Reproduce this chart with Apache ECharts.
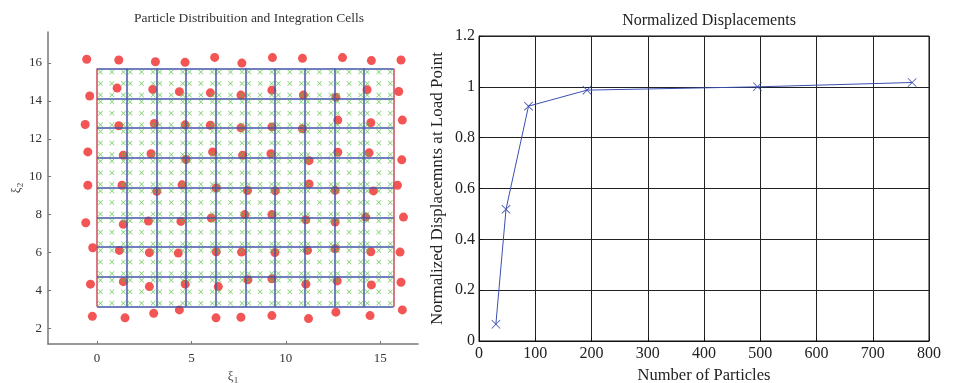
<!DOCTYPE html>
<html>
<head>
<meta charset="utf-8">
<script src="https://cdn.jsdelivr.net/npm/echarts@6/dist/echarts.min.js"></script>
<style>
html,body{margin:0;padding:0;background:#fff;}
#chart{width:959px;height:383px;}
</style>
</head>
<body>
<div id="chart"></div>
<script>
// particle positions, read row by row from top to bottom
const particleX = [
  -0.55, 1.15, 3.09, 4.66, 6.23, 7.67, 9.29, 10.88, 13.0, 14.53, 16.1,
  -0.39, 1.06, 2.95, 4.36, 6.0, 7.62, 9.26, 10.93, 12.65, 14.3, 15.98,
  -0.63, 1.15, 3.03, 4.67, 6.0, 7.62, 9.26, 10.88, 12.75, 14.5, 16.17,
  -0.49, 1.39, 2.86, 4.71, 6.12, 7.71, 9.21, 11.23, 12.75, 14.41, 16.14,
  -0.49, 1.32, 3.16, 4.5, 6.31, 7.97, 9.44, 11.23, 12.61, 14.64, 15.91,
  -0.6, 1.39, 2.72, 4.44, 6.05, 7.83, 9.26, 11.06, 12.61, 14.23, 16.23,
  -0.23, 1.18, 2.77, 4.3, 6.31, 7.65, 9.42, 11.15, 12.61, 14.5, 16.05,
  -0.35, 1.39, 2.77, 4.67, 6.42, 7.99, 9.26, 11.06, 12.72, 14.53, 16.1,
  -0.25, 1.48, 3.0, 4.36, 6.3, 7.62, 9.26, 11.2, 12.65, 14.46, 16.17
];
const particleY = [
  16.2, 16.16, 16.07, 16.04, 16.3, 16.0, 16.29, 16.25, 16.29, 16.13, 16.16,
  14.26, 14.68, 14.61, 14.49, 14.43, 14.31, 14.57, 14.31, 14.2, 14.59, 14.5,
  12.76, 12.69, 12.81, 12.74, 12.72, 12.58, 12.63, 12.53, 12.99, 12.85, 12.99,
  11.31, 11.14, 11.21, 10.91, 11.31, 11.14, 11.21, 10.85, 11.29, 11.26, 10.89,
  9.55, 9.55, 9.23, 9.57, 9.41, 9.27, 9.25, 9.62, 9.28, 9.25, 9.55,
  7.57, 7.49, 7.66, 7.64, 7.82, 8.0, 8.0, 7.73, 7.61, 7.87, 7.87,
  6.25, 6.11, 5.99, 5.97, 6.04, 6.02, 6.0, 6.11, 6.2, 6.04, 6.02,
  4.33, 4.46, 4.2, 4.33, 4.2, 4.56, 4.61, 4.33, 4.5, 4.29, 4.43,
  2.63, 2.55, 2.79, 2.97, 2.55, 2.58, 2.67, 2.51, 2.85, 2.67, 2.97
];
// integration cell edges
const cellEdgesX = [0, 1.571, 3.142, 4.712, 6.283, 7.854, 9.425, 10.996, 12.566, 14.137, 15.708];
const cellEdgesY = [3.142, 4.712, 6.283, 7.854, 9.425, 10.996, 12.566, 14.137, 15.708];
// 3 point gauss abscissae on [-1, 1]
const gaussPts = [-0.7746, 0, 0.7746];

// convergence study
const nParticles = [30, 48, 88, 192, 495, 770];
const normDisp = [0.066, 0.518, 0.924, 0.987, 1.0, 1.017];

const serif = 'Liberation Serif';
const crossPath = 'path://M0,1L1,0L5,4L9,0L10,1L6,5L10,9L9,10L5,6L1,10L0,9L4,5Z';
const thinCross = 'path://M0,0.6L0.6,0L5,4.4L9.4,0L10,0.6L5.6,5L10,9.4L9.4,10L5,5.6L0.6,10L0,9.4L4.4,5Z';

var particles = particleX.map((x, i) => [x, particleY[i]]);

var gaussData = [];
for (var i = 0; i < cellEdgesX.length - 1; i++) {
  for (var j = 0; j < cellEdgesY.length - 1; j++) {
    var cx = (cellEdgesX[i] + cellEdgesX[i + 1]) / 2, hx = (cellEdgesX[i + 1] - cellEdgesX[i]) / 2;
    var cy = (cellEdgesY[j] + cellEdgesY[j + 1]) / 2, hy = (cellEdgesY[j + 1] - cellEdgesY[j]) / 2;
    gaussPts.forEach(a => gaussPts.forEach(b => gaussData.push([cx + a * hx, cy + b * hy])));
  }
}

var x0 = cellEdgesX[0], x1 = cellEdgesX[cellEdgesX.length - 1];
var y0 = cellEdgesY[0], y1 = cellEdgesY[cellEdgesY.length - 1];
var blueLines = [];
cellEdgesY.forEach(y => blueLines.push({coords: [[x0, y], [x1, y]]}));
cellEdgesX.slice(1, -1).forEach(x => blueLines.push({coords: [[x, y0], [x, y1]]}));
var redLines = [{coords: [[x0, y0], [x0, y1]]}, {coords: [[x1, y0], [x1, y1]]}];

var myChart = echarts.init(document.getElementById('chart'));
const option = {
  animation: false,
  title: [
    {
      text: 'Particle Distribuition and Integration Cells',
      left: 244, top: 6, textAlign: 'center',
      textStyle: {fontFamily: serif, fontSize: 13.5, fontWeight: 'normal', color: '#333'}
    },
    {
      text: 'Normalized Displacements',
      left: 704, top: 8, textAlign: 'center',
      textStyle: {fontFamily: serif, fontSize: 16, fontWeight: 'normal', color: '#222'}
    }
  ],
  grid: [
    {left: 48, top: 32, width: 370, height: 312, outerBoundsMode: 'none'},
    {left: 479, top: 36, width: 450, height: 305, outerBoundsMode: 'none', show: true, borderColor: '#111', borderWidth: 1}
  ],
  xAxis: [
    {
      gridIndex: 0, type: 'value', min: -2.6, max: 17,
      name: '{a|ξ}{s|1}', nameLocation: 'middle', nameGap: 16,
      nameTextStyle: {
        rich: {
          a: {fontFamily: serif, fontSize: 13, color: '#444'},
          s: {fontFamily: serif, fontSize: 9, color: '#444', padding: [8, 0, 0, 0]}
        }
      },
      axisLine: {onZero: false, lineStyle: {color: '#777', width: 1.5}},
      axisTick: {inside: true, length: 3, customValues: [0, 5, 10, 15], lineStyle: {color: '#777'}},
      axisLabel: {customValues: [0, 5, 10, 15], fontFamily: serif, fontSize: 13, color: '#333', margin: 8},
      splitLine: {show: false}
    },
    {
      gridIndex: 1, type: 'value', min: 0, max: 800, interval: 100,
      name: 'Number of Particles', nameLocation: 'middle', nameGap: 24,
      nameTextStyle: {fontFamily: serif, fontSize: 16.5, color: '#222'},
      axisLine: {lineStyle: {color: '#111'}},
      axisTick: {inside: true, length: 4, lineStyle: {color: '#111'}},
      axisLabel: {fontFamily: serif, fontSize: 16, color: '#222', margin: 5},
      splitLine: {show: true, lineStyle: {color: '#222', width: 1}}
    }
  ],
  yAxis: [
    {
      gridIndex: 0, type: 'value', min: 1.17, max: 17.64,
      name: '{a|ξ}{s|2}', nameLocation: 'middle', nameGap: 22, nameRotate: 90,
      nameTextStyle: {
        rich: {
          a: {fontFamily: serif, fontSize: 13, color: '#444'},
          s: {fontFamily: serif, fontSize: 9, color: '#444', padding: [8, 0, 0, 0]}
        }
      },
      axisLine: {onZero: false, lineStyle: {color: '#777', width: 1.5}},
      axisTick: {inside: true, length: 3, customValues: [2, 4, 6, 8, 10, 12, 14, 16], lineStyle: {color: '#777'}},
      axisLabel: {customValues: [2, 4, 6, 8, 10, 12, 14, 16], fontFamily: serif, fontSize: 13, color: '#333', margin: 6},
      splitLine: {show: false}
    },
    {
      gridIndex: 1, type: 'value', min: 0, max: 1.2, interval: 0.2,
      name: 'Normalized Displacemnts at Load Point', nameLocation: 'middle', nameGap: 33,
      nameTextStyle: {fontFamily: serif, fontSize: 17, color: '#222'},
      axisLine: {lineStyle: {color: '#111'}},
      axisTick: {inside: true, length: 4, lineStyle: {color: '#111'}},
      axisLabel: {fontFamily: serif, fontSize: 16, color: '#222', margin: 4},
      splitLine: {show: true, lineStyle: {color: '#222', width: 1}}
    }
  ],
  series: [
    {
      type: 'scatter', xAxisIndex: 0, yAxisIndex: 0, z: 2,
      data: particles, symbol: 'circle', symbolSize: 9,
      itemStyle: {color: '#f02a2a'}
    },
    {
      type: 'lines', coordinateSystem: 'cartesian2d', xAxisIndex: 0, yAxisIndex: 0, z: 3,
      data: redLines, lineStyle: {color: '#cc4a5a', width: 1.5, opacity: 1}
    },
    {
      type: 'lines', coordinateSystem: 'cartesian2d', xAxisIndex: 0, yAxisIndex: 0, z: 3,
      data: blueLines, lineStyle: {color: '#4255a8', width: 1.5, opacity: 1}
    },
    {
      type: 'scatter', xAxisIndex: 0, yAxisIndex: 0, z: 4,
      data: gaussData, symbol: crossPath, symbolSize: 5,
      itemStyle: {color: '#55c040'}
    },
    {
      type: 'line', xAxisIndex: 1, yAxisIndex: 1, z: 5,
      data: nParticles.map((n, i) => [n, normDisp[i]]),
      symbol: thinCross, symbolSize: 9, showSymbol: true,
      lineStyle: {color: '#3a4fb0', width: 1},
      itemStyle: {color: '#3a4fb0'}
    }
  ]
};
option && myChart.setOption(option);
</script>
</body>
</html>
